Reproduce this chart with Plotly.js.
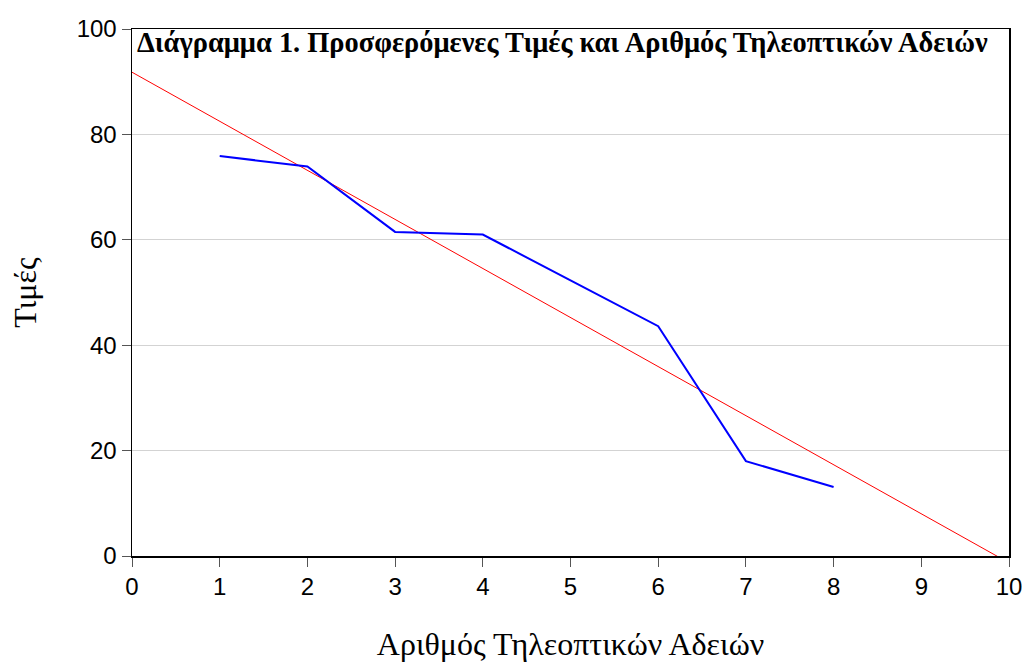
<!DOCTYPE html>
<html>
<head>
<meta charset="utf-8">
<script src="https://cdn.plot.ly/plotly-3.0.1.min.js"></script>
<style>html,body{margin:0;padding:0;background:#fff;}#chart{width:1022px;height:662px;}</style>
</head>
<body>
<div id="chart"></div>
<script>
// Number of TV licences (x) and offered prices (y)
const licences = [1, 2, 3, 4, 5, 6, 7, 8];
const prices = [75.9, 73.9, 61.5, 61.0, 52.3, 43.6, 18.0, 13.1];
// Fitted regression line endpoints
const fitX = [0, 10];
const fitY = [91.8, -1.3];
const xTicks = [0,1,2,3,4,5,6,7,8,9,10];
const yTicks = [0,20,40,60,80,100];

const chartTitle = 'Διάγραμμα 1. Προσφερόμενες Τιμές και Αριθμός Τηλεοπτικών Αδειών';
const xTitle = 'Αριθμός Τηλεοπτικών Αδειών';
const yTitle = 'Τιμές';

const traces = [
  {x: fitX, y: fitY, mode: 'lines', line: {color: '#ff0000', width: 1}, hoverinfo: 'skip', showlegend: false},
  {x: licences, y: prices, mode: 'lines', line: {color: '#0000ff', width: 2}, showlegend: false}
];

const layout = {
  width: 1022, height: 662,
  margin: {l: 132, r: 13, t: 28.5, b: 106},
  paper_bgcolor: '#fff', plot_bgcolor: '#fff',
  showlegend: false,
  title: {
    text: '<b>' + chartTitle + '</b>',
    font: {family: 'Liberation Serif, Times New Roman, serif', size: 28.4, color: '#000'},
    xref: 'container', yref: 'container',
    x: 137/1022, xanchor: 'left',
    y: 1 - 32/662, yanchor: 'top'
  },
  xaxis: {
    range: [0, 10], tickvals: xTicks, ticktext: xTicks.map(String),
    showgrid: false, zeroline: false,
    showline: true, linecolor: '#000', linewidth: 1.5, mirror: true,
    ticks: 'outside', ticklen: 9, tickcolor: '#555', tickwidth: 1,
    ticklabeloverflow: 'allow',
    tickfont: {family: 'Liberation Sans, Arial, sans-serif', size: 24, color: '#000'},
    title: {text: xTitle, standoff: 34, font: {family: 'Liberation Serif, Times New Roman, serif', size: 32, color: '#000'}}
  },
  yaxis: {
    range: [0, 100], tickvals: yTicks, ticktext: yTicks.map(String),
    showgrid: true, gridcolor: '#d3d3d3', gridwidth: 1, zeroline: false,
    showline: true, linecolor: '#000', linewidth: 1.5, mirror: true,
    ticks: 'outside', ticklen: 9, tickcolor: '#555', tickwidth: 1,
    ticklabeloverflow: 'allow',
    tickfont: {family: 'Liberation Sans, Arial, sans-serif', size: 24, color: '#000'},
    title: {text: yTitle, standoff: 30, font: {family: 'Liberation Serif, Times New Roman, serif', size: 32, color: '#000'}}
  }
};

Plotly.newPlot('chart', traces, layout, {displayModeBar: false, staticPlot: true});
</script>
</body>
</html>
